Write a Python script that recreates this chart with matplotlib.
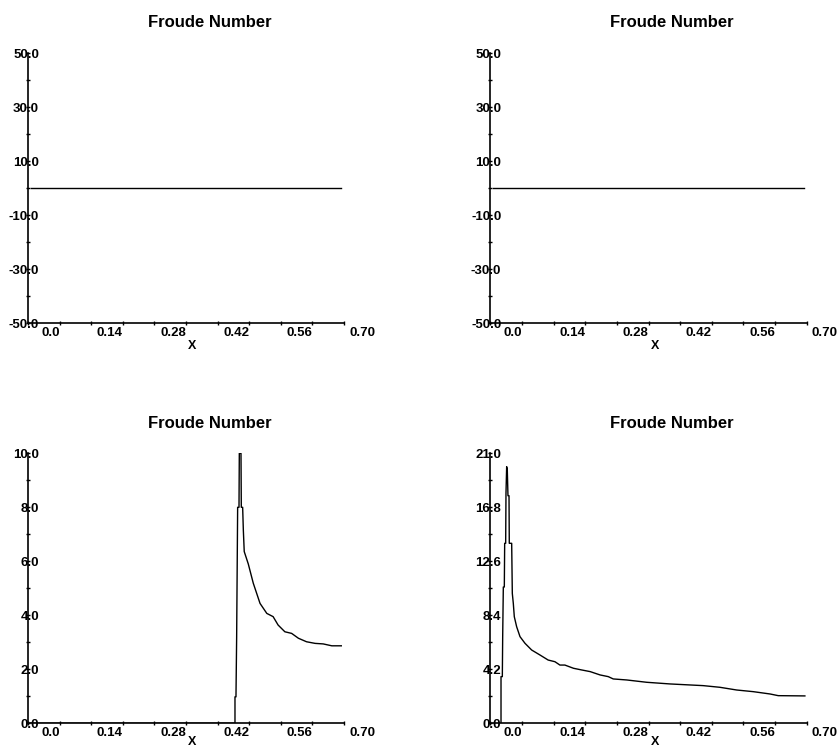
import numpy as np
import matplotlib
matplotlib.use('Agg')
import matplotlib.pyplot as plt
from matplotlib.ticker import MultipleLocator

plt.rcParams['font.family'] = ['Liberation Sans', 'DejaVu Sans']

# flat Froude number (top two panels)
flat_x = [0.006, 0.30, 0.694]
flat_y = [0.0, 0.0, 0.0]

# bottom left panel
left_x = [0.006, 0.4585, 0.4585, 0.4607, 0.4622, 0.4644, 0.4674, 0.4681, 0.4718,
          0.4725, 0.4755, 0.477, 0.479, 0.488, 0.499, 0.514, 0.529, 0.543, 0.554,
          0.569, 0.584, 0.599, 0.617, 0.636, 0.654, 0.673, 0.694]
left_y = [0.0, 0.0, 0.98, 0.98, 3.2, 8.0, 8.0, 10.0, 10.0,
          8.0, 8.0, 7.16, 6.36, 5.9, 5.19, 4.44, 4.07, 3.95, 3.64,
          3.39, 3.33, 3.15, 3.02, 2.96, 2.94, 2.87, 2.87]

# bottom right panel
right_x = [0.0237, 0.0237, 0.0266, 0.0274, 0.0288, 0.031, 0.0318, 0.034, 0.0347,
           0.0362, 0.0376, 0.0391, 0.0414, 0.042, 0.0473, 0.0487, 0.0509, 0.0531,
           0.0583, 0.0657, 0.0768, 0.0915, 0.110, 0.128, 0.143, 0.154, 0.165,
           0.184, 0.202, 0.221, 0.243, 0.261, 0.272, 0.302, 0.346, 0.398, 0.471,
           0.508, 0.545, 0.582, 0.619, 0.637, 0.696]
right_y = [0.0, 3.63, 3.63, 6.74, 10.6, 10.6, 14.0, 14.0, 17.9,
           19.96, 19.7, 17.7, 17.7, 14.0, 14.0, 10.1, 9.33, 8.29,
           7.51, 6.74, 6.22, 5.70, 5.31, 4.92, 4.79, 4.53, 4.53,
           4.28, 4.15, 4.02, 3.76, 3.63, 3.45, 3.37, 3.19, 3.06, 2.93,
           2.80, 2.59, 2.46, 2.28, 2.15, 2.13]

x_ticks = [0.0, 0.07, 0.14, 0.21, 0.28, 0.35, 0.42, 0.49, 0.56, 0.63, 0.70]
x_labels = ['', '0.0', '', '0.14', '', '0.28', '', '0.42', '', '0.56', '']
x_last = '0.70'

top_yticks = [-50.0, -30.0, -10.0, 10.0, 30.0, 50.0]
left_yticks = [0.0, 2.0, 4.0, 6.0, 8.0, 10.0]
right_yticks = [0.0, 4.2, 8.4, 12.6, 16.8, 21.0]

W, H = 838, 749
fig = plt.figure(figsize=(W / 100, H / 100), dpi=100)


def make_axes(x0, x1, y0, y1):
    return fig.add_axes([x0 / W, 1 - y1 / H, (x1 - x0) / W, (y1 - y0) / H])


def draw_panel(ax, xs, ys, yticks, ystep, xlab_y):
    ax.plot(xs, ys, color='black', lw=1.0)
    ax.set_xlim(0, 0.70)
    ax.set_ylim(yticks[0], yticks[-1])
    for s in ['top', 'right']:
        ax.spines[s].set_visible(False)
    for s in ['left', 'bottom']:
        ax.spines[s].set_linewidth(1.2)
    ax.set_xticks(x_ticks)
    ax.set_xticklabels(x_labels)
    for lbl in ax.get_xticklabels():
        lbl.set_horizontalalignment('right')
    ax.set_yticks(yticks)
    ax.set_yticklabels(['%.1f' % v for v in yticks])
    ax.yaxis.set_minor_locator(MultipleLocator(ystep))
    ax.tick_params(which='both', direction='inout', length=3, width=1,
                   labelsize=9.5, color='black')
    ax.tick_params(axis='y', pad=-9.4)
    ax.tick_params(axis='x', pad=1.5)
    for lbl in ax.get_xticklabels() + ax.get_yticklabels():
        lbl.set_fontweight('bold')
    ax.annotate(x_last, xy=(1.0, 0.0), xycoords='axes fraction',
                xytext=(3.6, -3.0), textcoords='offset points',
                ha='left', va='top', fontsize=9.5, fontweight='bold')
    ax.set_title('Froude Number', fontsize=12, fontweight='bold', x=0.574, pad=18.5)
    ax.set_xlabel('X', fontsize=9, fontweight='bold')
    ax.xaxis.set_label_coords(0.52, xlab_y)
    ax.patch.set_alpha(0)


ax1 = make_axes(28, 344, 53, 323.3)
ax2 = make_axes(490.3, 806.7, 53, 323.3)
ax3 = make_axes(28, 344, 453.3, 723.3)
ax4 = make_axes(490.3, 806.7, 453.3, 723.3)

draw_panel(ax1, flat_x, flat_y, top_yticks, 10, -0.062)
draw_panel(ax2, flat_x, flat_y, top_yticks, 10, -0.062)
draw_panel(ax3, left_x, left_y, left_yticks, 1.0, -0.048)
draw_panel(ax4, right_x, right_y, right_yticks, 2.1, -0.048)

fig.savefig('out.png', dpi=100)
